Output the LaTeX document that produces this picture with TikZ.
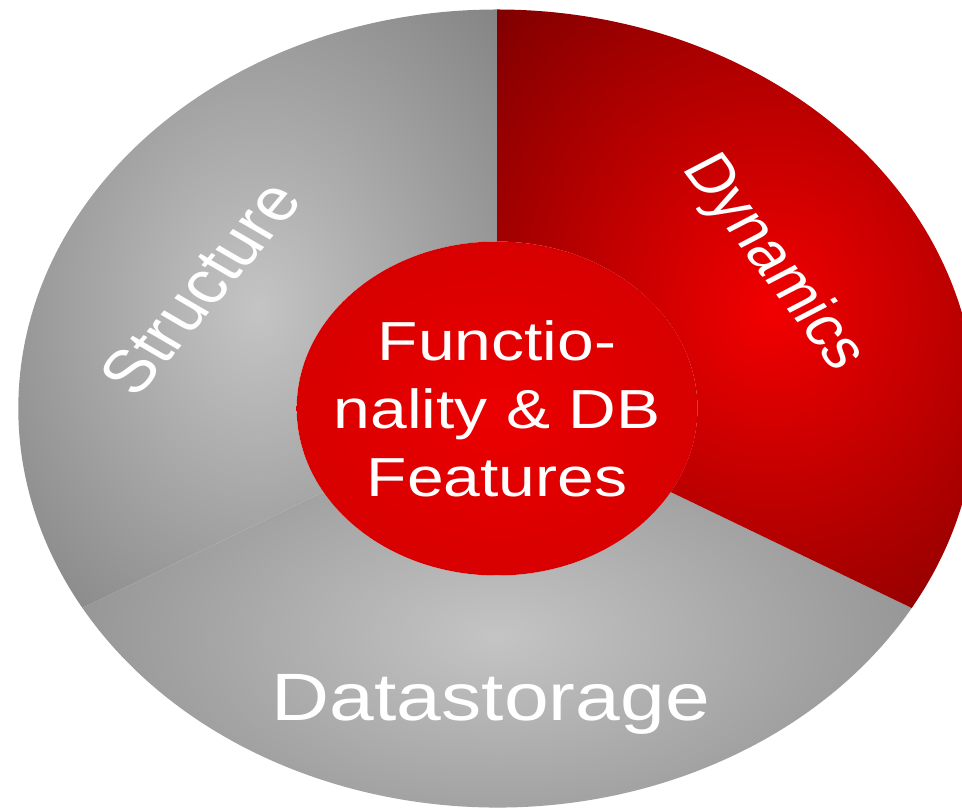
\documentclass[tikz,border=0pt]{standalone}
\usepackage{fontspec}
\setmainfont{Liberation Sans}
\usepackage{tikz}
\definecolor{graylight}{RGB}{196,196,196}
\definecolor{graydark}{RGB}{128,128,128}
\definecolor{redlight}{RGB}{242,0,0}
\definecolor{reddark}{RGB}{120,0,0}
\definecolor{corelight}{RGB}{235,0,0}
\definecolor{coredark}{RGB}{140,0,0}
\pgfdeclareradialshading{graysector}{\pgfpoint{0bp}{0bp}}{color(0bp)=(graylight); color(38bp)=(graydark); color(72bp)=(graydark)}
\pgfdeclareradialshading{redsector}{\pgfpoint{0bp}{0bp}}{color(0bp)=(redlight); color(38bp)=(reddark); color(72bp)=(reddark)}
\pgfdeclareradialshading{coreshade}{\pgfpoint{0bp}{0bp}}{color(0bp)=(corelight); color(36bp)=(corelight!70!coredark); color(50bp)=(coredark)}

\begin{document}
\begin{tikzpicture}
    [xscale=1.2, transform shape,
    sector/.style={shade, shading=graysector},
    hotsector/.style={shade, shading=redsector},
    word/.style={text=white, inner sep=0pt}]
    \useasboundingbox (0,0) rectangle (801.67bp,809bp);
    \coordinate (hub) at (414.17bp,400.5bp);

    % three ring sectors
    \path[sector] (hub) ++(90:399bp) arc[start angle=90, end angle=210, radius=399bp]
      -- ++(30:232bp) arc[start angle=210, end angle=90, radius=167bp] -- cycle;
    \path[sector] (hub) ++(210:399bp) arc[start angle=210, end angle=330, radius=399bp]
      -- ++(150:232bp) arc[start angle=330, end angle=210, radius=167bp] -- cycle;
    \path[hotsector] (hub) ++(-30:399bp) arc[start angle=-30, end angle=90, radius=399bp]
      -- ++(-90:232bp) arc[start angle=90, end angle=-30, radius=167bp] -- cycle;

    \node (core) at (hub) [circle, minimum size=334bp, inner sep=0pt, shade, shading=coreshade] {};
    \node (core-text) at (hub) [word, align=center, font=\fontsize{55bp}{68bp}\selectfont] {Functio-\\nality \& DB\\Features};

    \node (structure) at (166.7bp,521bp) [word, rotate=55, font=\fontsize{60bp}{60bp}\selectfont] {Structure};
    \node (dynamics) at (644bp,546bp) [word, rotate=-58, font=\fontsize{55bp}{55bp}\selectfont] {Dynamics};
    \node (datastorage) at (409bp,88bp) [word, anchor=base, font=\fontsize{67bp}{67bp}\selectfont] {Datastorage};
  \end{tikzpicture}
\end{document}
